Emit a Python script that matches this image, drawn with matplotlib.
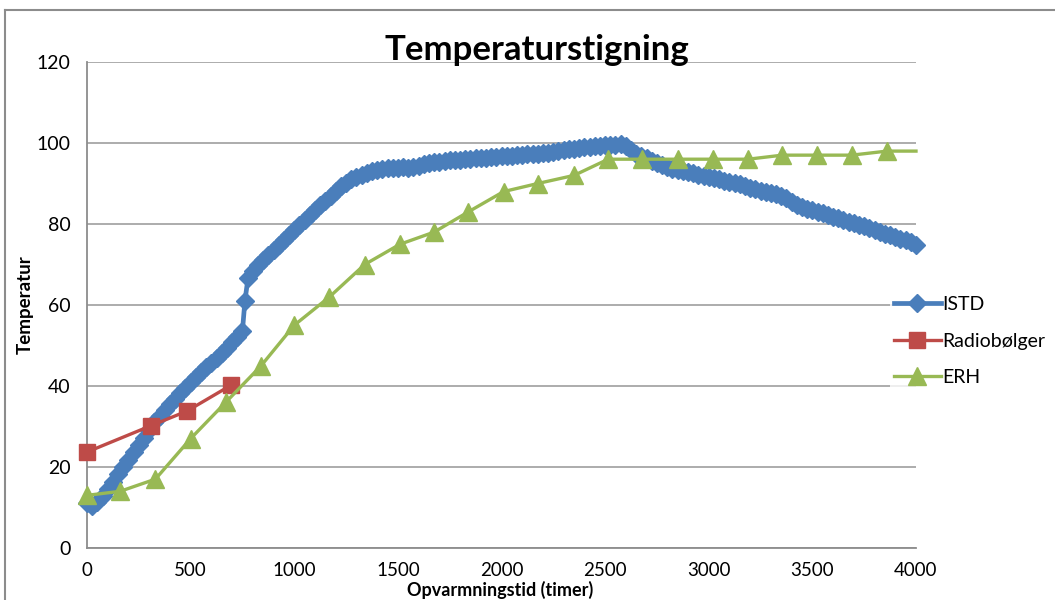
import numpy as np
import matplotlib.pyplot as plt
from matplotlib.lines import Line2D

plt.rcParams['font.family'] = ['Lato', 'DejaVu Sans']

# ISTD - dense logging
istd_t = np.concatenate([np.arange(0, 751, 25), [762, 777], np.arange(800, 4001, 25)])
istd_temp = [
    11.0, 10.3, 11.3, 12.9, 14.6, 16.4, 18.2, 20.0,
    21.8, 23.6, 25.4, 27.2, 29.2, 31.0, 32.6, 34.1,
    35.5, 36.9, 38.3, 39.6, 40.9, 42.2, 43.4, 44.6,
    45.8, 47.0, 48.2, 49.5, 50.8, 52.2, 53.6,
    61.0, 66.7,
    68.5, 69.8, 71.1, 72.4, 73.6, 74.8, 76.0, 77.3,
    78.5, 79.7, 81.0, 82.2, 83.4, 84.6, 85.8, 87.0,
    88.2, 89.3, 90.2, 91.0, 91.7, 92.2, 92.7, 93.1,
    93.4, 93.6, 93.8, 93.8, 93.9, 94.0, 93.9, 94.1,
    94.4, 94.7, 95.0, 95.2, 95.4, 95.6, 95.7, 95.8,
    95.9, 96.0, 96.1, 96.2, 96.3, 96.4, 96.5, 96.6,
    96.7, 96.8, 96.9, 97.0, 97.1, 97.2, 97.3, 97.4,
    97.5, 97.6, 97.8, 98.0, 98.2, 98.4, 98.6, 98.8,
    99.0, 99.1, 99.2, 99.3, 99.4, 99.5, 99.6, 99.7,
    99.2, 98.3, 97.4, 96.8, 96.2, 95.6, 95.1, 94.6,
    94.1, 93.7, 93.4, 93.1, 92.8, 92.5, 92.2, 91.9,
    91.6, 91.3, 91.0, 90.7, 90.4, 90.1, 89.8, 89.4,
    89.0, 88.6, 88.2, 87.9, 87.7, 87.4, 87.0, 86.3,
    85.5, 84.8, 84.2, 83.8, 83.4, 83.0, 82.6, 82.2,
    81.8, 81.4, 81.0, 80.6, 80.2, 79.8, 79.4, 79.0,
    78.5, 78.0, 77.6, 77.2, 76.8, 76.4, 76.0, 75.5,
    74.8,
]

radio_t = [0, 309, 482, 695]
radio_temp = [23.7, 30.2, 33.8, 40.2]

erh_t = [0, 160, 330, 500, 670, 840, 1000, 1170, 1340, 1510, 1675, 1840, 2010,
         2175, 2350, 2515, 2680, 2850, 3020, 3190, 3355, 3520, 3690, 3860, 4000]
erh_temp = [13, 14, 17, 27, 36, 45, 55, 62, 70, 75, 78, 83, 88,
            90, 92, 96, 96, 96, 96, 96, 97, 97, 97, 98, 98]

blue = '#4a7ebb'
red = '#be4b48'
green = '#98b954'
grid_c = '#a6a6a6'

fig = plt.figure(figsize=(10.55, 6), dpi=100)
ax = fig.add_axes([87 / 1055, 52 / 600, 829 / 1055, 486 / 600])

ax.plot(istd_t, istd_temp, color=blue, lw=3.4, marker='D', ms=9,
        mfc=blue, mec=blue, label='ISTD', clip_on=False, zorder=3)
ax.plot(radio_t, radio_temp, color=red, lw=2.4, marker='s', ms=12,
        mfc=red, mec=red, label='Radiobølger', clip_on=False, zorder=4)
ax.plot(erh_t, erh_temp, color=green, lw=2.4, marker='^', ms=13.5,
        mfc=green, mec=green, markevery=slice(0, -1), label='ERH',
        clip_on=False, zorder=5)

ax.set_xlim(0, 4000)
ax.set_ylim(0, 120)
ax.set_xticks(np.arange(0, 4001, 500))
ax.set_yticks(np.arange(0, 121, 20))
ax.yaxis.grid(True, color=grid_c, lw=1.3)
ax.set_axisbelow(True)
for s in ['top', 'right']:
    ax.spines[s].set_visible(False)
for s in ['left', 'bottom']:
    ax.spines[s].set_color('#8c8c8c')
    ax.spines[s].set_linewidth(1.3)
ax.tick_params(length=0, labelsize=14, pad=12)
ax.tick_params(axis='x', labelsize=13.5, pad=10)

ax.set_ylabel('Temperatur', fontsize=13.5, fontweight='bold')
ax.yaxis.set_label_coords(-0.064, 0.5)

# x label sits right at the bottom edge like the reference
fig.text(500 / 1055, 1 / 600, 'Opvarmningstid (timer)', fontsize=13,
         fontweight='bold', ha='center', va='bottom')

fig.text(537 / 1055, 1 - 50 / 600, 'Temperaturstigning', fontsize=25,
         fontweight='bold', ha='center', va='center')

leg = ax.legend(loc='center left', bbox_to_anchor=(890 / 1055, 1 - 341 / 600),
                bbox_transform=fig.transFigure, frameon=True, fontsize=14,
                handlelength=2.4, handletextpad=0.1, labelspacing=1.0,
                borderpad=0.2, borderaxespad=0, fancybox=False)
leg.get_frame().set_facecolor('white')
leg.get_frame().set_edgecolor('none')
leg.set_zorder(6)

# chart border (cut off at right and bottom like the reference)
border = dict(color='#8c8c8c', lw=1.5, transform=fig.transFigure)
fig.add_artist(Line2D([5 / 1055, 1], [1 - 9.5 / 600, 1 - 9.5 / 600], **border))
fig.add_artist(Line2D([5 / 1055, 5 / 1055], [0, 1 - 9.5 / 600], **border))

fig.savefig('out.png', dpi=100)
